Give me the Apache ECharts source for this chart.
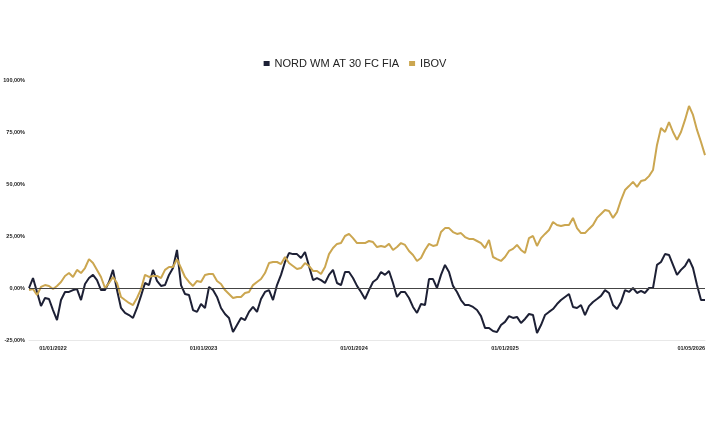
<!DOCTYPE html>
<html>
<head>
<meta charset="utf-8">
<script src="https://cdn.jsdelivr.net/npm/echarts@6/dist/echarts.min.js"></script>
<style>
  html, body { margin: 0; padding: 0; background: #fff; }
  #chart { width: 710px; height: 427px; }
</style>
</head>
<body>
<div id="chart"></div>
<script>
// período da amostra (pontos espaçados igualmente entre início e fim)
var startDate = Date.UTC(2021, 10, 4);
var endDate = Date.UTC(2026, 4, 1);

// datas dos rótulos do eixo x
var tickDates = [Date.UTC(2022, 0, 1), Date.UTC(2023, 0, 1), Date.UTC(2024, 0, 1), Date.UTC(2025, 0, 1), Date.UTC(2026, 4, 1)];

var seriesNames = ['NORD WM AT 30 FC FIA', 'IBOV'];

// rentabilidade acumulada (%)
var nord = [
  0, 4.8, -1.9, -8.7, -4.8, -5.3, -10.6, -15.4, -5.8, -1.9,
  -1.9, -1.0, -0.5, -5.8, 1.9, 4.8, 6.3, 3.8, -1.0, -1.0,
  2.9, 8.7, -1.0, -9.6, -12.0, -13.0, -14.4, -9.6, -3.8, 2.4,
  1.4, 8.7, 3.4, 1.0, 1.4, 6.3, 9.6, 18.3, 1.4, -2.9,
  -3.4, -10.6, -11.5, -7.7, -9.6, 0.5, -1.0, -4.3, -9.6, -12.5,
  -14.4, -21.2, -17.8, -14.4, -15.4, -11.5, -9.1, -11.5, -5.3, -1.9,
  -1.0, -5.8, 1.4, 6.3, 12.5, 16.8, 16.3, 16.3, 14.4, 17.3,
  10.6, 3.8, 4.8, 3.8, 2.4, 6.3, 8.7, 2.4, 1.4, 7.7,
  7.7, 4.8, 1.0, -1.9, -5.3, -1.0, 2.9, 4.3, 7.7, 6.3,
  8.2, 2.4, -4.3, -1.9, -1.9, -4.8, -9.1, -12.0, -7.7, -8.2,
  4.3, 4.3, 0, 6.3, 11.1, 7.7, 1.0, -1.9, -5.8, -8.2,
  -8.2, -9.1, -10.6, -13.5, -19.2, -19.2, -20.7, -21.2, -17.8, -16.3,
  -13.5, -14.4, -13.9, -16.8, -14.9, -12.5, -13.0, -21.6, -17.8, -13.0,
  -11.5, -10.1, -7.7, -5.8, -4.3, -2.9, -9.1, -9.6, -8.2, -13.0,
  -8.7, -6.7, -5.3, -3.8, -1.0, -2.4, -8.2, -10.1, -6.7, -1.0,
  -1.9, 0, -2.4, -1.4, -2.4, 0, 0, 11.1, 12.5, 16.3,
  15.9, 11.1, 6.3, 8.7, 10.6, 13.9, 9.6, 1.4, -5.8, -5.8
];

var ibov = [
  -1.0, -0.5, -3.4, 0.5, 1.4, 1.0, -0.5, 1.0, 2.9, 5.8,
  7.2, 5.3, 8.7, 7.2, 9.6, 13.9, 12.0, 8.7, 5.3, 0,
  2.4, 5.3, 2.4, -4.3, -5.8, -7.2, -8.2, -4.8, -0.5, 6.3,
  5.3, 5.8, 5.8, 4.8, 8.7, 10.1, 10.1, 13.9, 9.6, 5.3,
  2.9, 1.0, 3.4, 2.9, 6.3, 6.7, 6.7, 3.4, 1.9, -1.0,
  -2.9, -4.8, -4.3, -4.3, -2.4, -1.9, 1.4, 2.9, 4.3, 7.2,
  12.0, 12.5, 12.5, 11.5, 14.9, 12.0, 10.6, 9.1, 9.6, 12.0,
  10.6, 8.2, 8.2, 6.7, 10.1, 16.3, 19.2, 21.2, 21.6, 25.0,
  26.0, 24.0, 21.6, 21.6, 21.6, 22.6, 22.1, 19.7, 20.2, 19.7,
  21.2, 18.3, 19.7, 21.6, 20.7, 17.8, 15.9, 13.0, 14.4, 18.3,
  21.2, 20.2, 20.7, 26.9, 28.8, 28.8, 26.9, 26.0, 26.4, 24.5,
  23.6, 23.6, 22.6, 21.6, 19.2, 23.1, 14.9, 13.9, 13.0, 14.9,
  17.8, 18.8, 20.7, 18.3, 16.8, 24.0, 25.0, 20.2, 24.0, 26.0,
  27.9, 31.7, 30.3, 29.8, 30.3, 30.3, 33.7, 28.8, 26.4, 26.4,
  28.4, 30.3, 33.7, 35.6, 37.5, 37.0, 33.7, 36.5, 42.3, 47.1,
  49.0, 51.0, 48.6, 51.4, 51.9, 53.8, 56.7, 68.8, 76.9, 75.0,
  79.8, 75.0, 71.2, 75.0, 80.8, 87.5, 83.2, 76.0, 70.2, 63.9
];

function pad(n) { return n < 10 ? '0' + n : '' + n; }

function withDates(values) {
  var step = (endDate - startDate) / (values.length - 1);
  return values.map(function (v, i) {
    return [startDate + i * step, v];
  });
}

var myChart = echarts.init(document.getElementById('chart'), null, { renderer: 'canvas' });

myChart.setOption({
  animation: false,
  color: ['#1d2035', '#cba650'],
  textStyle: { fontFamily: 'Liberation Sans, Arial, sans-serif' },
  legend: {
    top: 53,
    left: 'center',
    itemWidth: 6,
    itemHeight: 5,
    itemGap: 10,
    icon: 'rect',
    textStyle: { fontSize: 11, color: '#222' },
    data: seriesNames
  },
  grid: { left: 29, right: 5, top: 80, bottom: 87 },
  xAxis: {
    type: 'value',
    min: startDate,
    max: endDate,
    splitLine: { show: false },
    axisTick: { show: false },
    axisLine: { onZero: false, lineStyle: { color: '#e8e8e8', width: 1 } },
    axisLabel: {
      customValues: tickDates,
      fontSize: 5.5,
      fontWeight: 'bold',
      color: '#222',
      margin: 5,
      alignMaxLabel: 'right',
      hideOverlap: false,
      formatter: function (val) {
        var d = new Date(val);
        return pad(d.getUTCDate()) + '/' + pad(d.getUTCMonth() + 1) + '/' + d.getUTCFullYear();
      }
    }
  },
  yAxis: {
    type: 'value',
    min: -25,
    max: 100,
    interval: 25,
    splitLine: { show: false },
    axisLine: { show: false },
    axisTick: { show: false },
    axisLabel: {
      fontSize: 5.5,
      fontWeight: 'bold',
      color: '#222',
      margin: 4,
      formatter: function (v) { return v.toFixed(2).replace('.', ',') + '%'; }
    }
  },
  series: [
    {
      name: seriesNames[0],
      type: 'line',
      data: withDates(nord),
      showSymbol: false,
      lineStyle: { width: 2 },
      markLine: {
        silent: true,
        symbol: 'none',
        label: { show: false },
        lineStyle: { color: '#444', width: 1, type: 'solid' },
        data: [{ yAxis: 0 }]
      },
      z: 2
    },
    {
      name: seriesNames[1],
      type: 'line',
      data: withDates(ibov),
      showSymbol: false,
      lineStyle: { width: 2 },
      z: 3
    }
  ]
});
</script>
</body>
</html>
